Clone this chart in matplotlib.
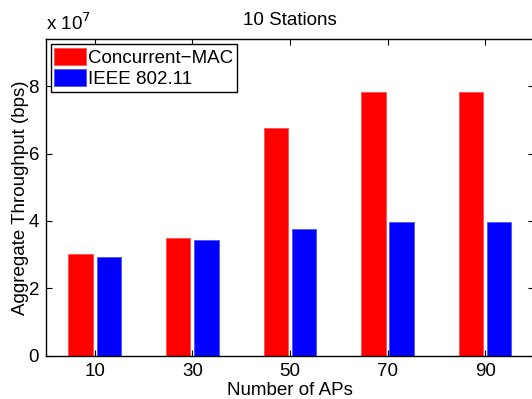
import matplotlib
matplotlib.use("Agg")
import matplotlib.pyplot as plt
import numpy as np

plt.rcParams['font.family'] = ['Liberation Sans', 'DejaVu Sans']

categories = ['10', '30', '50', '70', '90']
concurrent_mac = [3.03e7, 3.50e7, 6.76e7, 7.83e7, 7.83e7]
ieee_80211 = [2.93e7, 3.44e7, 3.75e7, 3.98e7, 3.96e7]

FS = 13.5
fig = plt.figure(figsize=(5.32, 3.99), dpi=100)
ax = fig.add_axes([0.0865, 0.1085, 0.917, 0.7935])

x = np.arange(1, len(categories) + 1)
w = 0.25
off = 0.145
ax.bar(x - off, concurrent_mac, w, color='#ff0000', edgecolor='#ff5050', linewidth=0.6, label='Concurrent\u2212MAC')
ax.bar(x + off, ieee_80211, w, color='#0000ff', edgecolor='#5050ff', linewidth=0.6, label='IEEE 802.11')

ax.set_xlim(0.5, 5.5)
ax.set_ylim(0, 9.4e7)
ax.set_xticks(x)
ax.set_xticklabels(categories)
ax.set_yticks([0, 2e7, 4e7, 6e7, 8e7])
ax.set_yticklabels(['0', '2', '4', '6', '8'])
ax.tick_params(direction='in', top=True, right=True, labelsize=FS, length=4, width=0.8, pad=5)
for s in ax.spines.values():
    s.set_linewidth(1.0)

ax.set_xlabel('Number of APs', fontsize=FS, labelpad=2)
ax.set_ylabel('Aggregate Throughput (bps)', fontsize=FS, labelpad=0)
ax.set_title('10 Stations', fontsize=FS, pad=10)
fig.text(0.087, 0.915, r'x 10$^{7}$', fontsize=FS, ha='left', va='bottom')

leg = ax.legend(loc='upper left', fontsize=FS, frameon=True, fancybox=False,
                edgecolor='black', framealpha=1, borderpad=0.2, labelspacing=0.12,
                handlelength=1.7, handleheight=1.05, handletextpad=0.1,
                borderaxespad=0.25)
leg.get_frame().set_linewidth(1.0)

fig.savefig('out.png', dpi=100)
